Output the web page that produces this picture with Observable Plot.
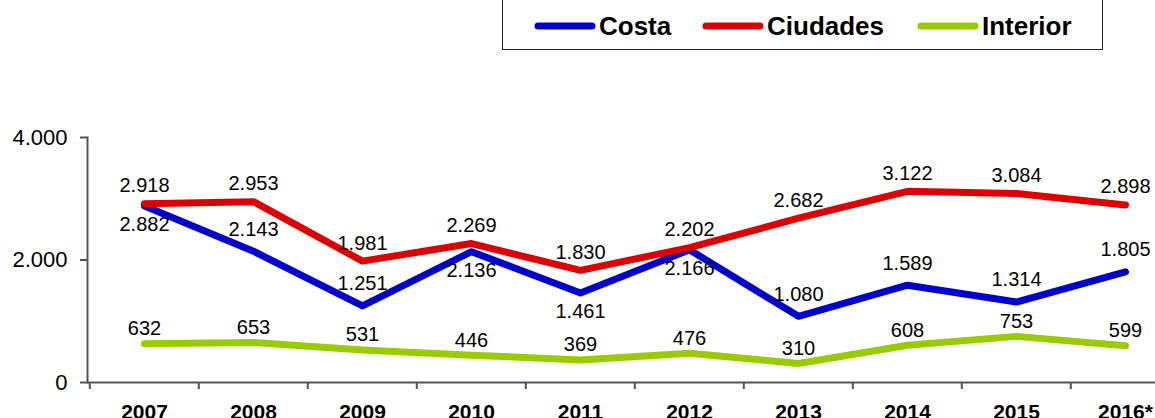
<!DOCTYPE html>
<html>
<head>
<meta charset="utf-8">
<script src="https://cdn.jsdelivr.net/npm/d3@7"></script>
<script src="https://cdn.jsdelivr.net/npm/@observablehq/plot@0.6"></script>
<style>
  html, body { margin: 0; padding: 0; background: #fff; overflow: hidden; width: 1155px; height: 418px; }
  body { font-family: Arial, "Liberation Sans", sans-serif; position: relative; }
  #head { position: relative; height: 60px; }
  #legend {
    position: absolute; left: 502px; top: -12px; width: 601px; height: 62px;
    box-sizing: border-box; border: 1.5px solid #222;
  }
  .item { position: absolute; top: 22px; height: 30px; display: flex; align-items: center; }
  .item svg { display: block; margin-right: 3px; }
  .item span { font-weight: bold; font-size: 26px; color: #000; line-height: 30px; }
  #chart svg { display: block; overflow: visible; }
</style>
</head>
<body>
<div id="head"><div id="legend"></div></div>
<div id="chart"></div>
<script>
// ---- data ----
const years = ["2007", "2008", "2009", "2010", "2011", "2012", "2013", "2014", "2015", "2016*"];
const costa    = [2882, 2143, 1251, 2136, 1461, 2166, 1080, 1589, 1314, 1805];
const ciudades = [2918, 2953, 1981, 2269, 1830, 2202, 2682, 3122, 3084, 2898];
const interior = [632, 653, 531, 446, 369, 476, 310, 608, 753, 599];
const costaLabelSide = ["below", "above", "above", "below", "below", "below", "above", "above", "above", "above"];
const seriesNames = ["Costa", "Ciudades", "Interior"];
const yTicks = [0, 2000, 4000];

const colors = {Costa: "#0000CC", Ciudades: "#DD0000", Interior: "#99CC00"};

// ---- legend ----
const legend = document.getElementById("legend");
const itemLeft = {Costa: 31, Ciudades: 199, Interior: 414};
seriesNames.forEach(name => {
  const div = document.createElement("div");
  div.className = "item";
  div.style.left = itemLeft[name] + "px";
  div.innerHTML = `<svg width="62" height="10"><line x1="4" y1="5" x2="58" y2="5" stroke="${colors[name]}" stroke-width="7" stroke-linecap="round"/></svg><span>${name}</span>`;
  legend.appendChild(div);
});

// ---- table ----
const rows = [];
years.forEach((yr, i) => {
  rows.push({year: yr, series: "Costa", value: costa[i], side: costaLabelSide[i]});
  rows.push({year: yr, series: "Ciudades", value: ciudades[i], side: "above"});
  rows.push({year: yr, series: "Interior", value: interior[i], side: "above"});
});

const locale = d3.formatLocale({decimal: ",", thousands: ".", grouping: [3], currency: ["", "€"]});
const fmt = locale.format(",d");

const xRange = [87, 1181];
const bw = (xRange[1] - xRange[0]) / years.length;
const axisColor = "#555";

function labels(filter, dy) {
  return Plot.text(rows.filter(filter), {
    x: "year", y: "value", text: d => fmt(d.value), fontSize: 20, fill: "#000", dy
  });
}

const plot = Plot.plot({
  width: 1155,
  height: 380,
  marginTop: 77,
  marginBottom: 58,
  marginLeft: 87,
  marginRight: 0,
  style: {fontFamily: "Arial, 'Liberation Sans', sans-serif", color: "#000", background: "transparent"},
  x: {type: "point", domain: years, range: xRange, padding: 0.5},
  y: {domain: [0, 4000]},
  color: {domain: seriesNames, range: seriesNames.map(n => colors[n])},
  marks: [
    Plot.frame({anchor: "left", stroke: axisColor, strokeWidth: 2}),
    Plot.ruleY([0], {stroke: axisColor, strokeWidth: 2}),
    Plot.ruleX(years, {x: d => d, y1: 0, y2: 0, insetBottom: -7, dx: -bw / 2, stroke: axisColor, strokeWidth: 2}),
    Plot.axisY({ticks: yTicks, tickSize: 7, tickPadding: 13, tickFormat: fmt, fontSize: 22, stroke: axisColor, strokeWidth: 2, label: null}),
    Plot.axisX({tickSize: 0, tickPadding: 22, fontSize: 21, fontWeight: "bold", label: null}),
    Plot.line(rows, {x: "year", y: "value", z: "series", stroke: "series", strokeWidth: 7, strokeLinecap: "round", strokeLinejoin: "round"}),
    labels(d => d.series === "Ciudades", -18),
    labels(d => d.series === "Interior", -15),
    labels(d => d.series === "Costa" && d.side === "above", -22),
    labels(d => d.series === "Costa" && d.side === "below", 19)
  ]
});

document.getElementById("chart").appendChild(plot);
</script>
</body>
</html>
